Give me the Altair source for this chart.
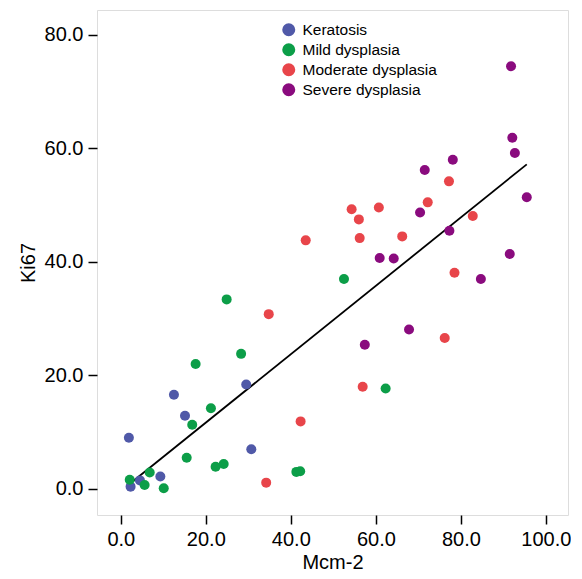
import altair as alt
import pandas as pd

groups = ["Keratosis", "Mild dysplasia", "Moderate dysplasia", "Severe dysplasia"]
colors = ["#5059a8", "#0c9e48", "#e8454a", "#8a0b7e"]

ker_x = [1.9, 12.5, 15.1, 29.5, 30.7, 9.3, 2.3, 4.5]
ker_y = [9.0, 16.6, 12.9, 18.4, 7.0, 2.2, 0.4, 1.5]

mild_x = [24.9, 28.3, 17.6, 21.2, 16.8, 15.5, 22.3, 24.2, 41.3, 42.2, 6.8, 2.1, 5.6, 10.1, 52.5, 62.3]
mild_y = [33.4, 23.8, 22.0, 14.2, 11.3, 5.5, 3.9, 4.4, 3.0, 3.1, 2.9, 1.6, 0.7, 0.1, 37.0, 17.7]

mod_x = [34.8, 42.3, 34.2, 78.5, 76.2, 56.9, 77.2, 72.2, 54.3, 56.0, 60.7, 56.2, 66.2, 82.8, 43.5]
mod_y = [30.8, 11.9, 1.1, 38.1, 26.6, 18.0, 54.2, 50.5, 49.3, 47.5, 49.6, 44.2, 44.5, 48.1, 43.8]

sev_x = [60.9, 64.2, 84.7, 91.5, 67.8, 57.4, 91.8, 92.1, 92.7, 78.1, 71.5, 95.5, 70.4, 77.3]
sev_y = [40.7, 40.6, 37.0, 41.4, 28.1, 25.4, 74.5, 61.9, 59.2, 58.0, 56.2, 51.4, 48.7, 45.5]

rows = []
for g, xs, ys in zip(groups, [ker_x, mild_x, mod_x, sev_x], [ker_y, mild_y, mod_y, sev_y]):
    for a, b in zip(xs, ys):
        rows.append({"Mcm-2": a, "Ki67": b, "Group": g})
df = pd.DataFrame(rows)

FONT = "Liberation Sans"

xscale = alt.Scale(domain=[-5.6, 105.2], nice=False, zero=False)
yscale = alt.Scale(domain=[-4.6, 84.4], nice=False, zero=False)

xaxis = alt.Axis(values=[0, 20, 40, 60, 80, 100], format=".1f", grid=False, domain=False,
                 tickSize=9, tickWidth=1.5, tickColor="black", labelFontSize=20,
                 titleFontSize=20, labelPadding=5, titlePadding=3, titleFontWeight="normal",
                 labelColor="black", titleColor="black", labelFont=FONT, titleFont=FONT)
yaxis = alt.Axis(values=[0, 20, 40, 60, 80], format=".1f", grid=False, domain=False,
                 tickSize=9, tickWidth=1.5, tickColor="black", labelFontSize=20,
                 titleFontSize=20, labelPadding=5, titlePadding=6, titleFontWeight="normal",
                 labelColor="black", titleColor="black", labelFont=FONT, titleFont=FONT)

points = alt.Chart(df).mark_circle(size=100, opacity=1).encode(
    x=alt.X("Mcm-2:Q", scale=xscale, axis=xaxis, title="Mcm-2"),
    y=alt.Y("Ki67:Q", scale=yscale, axis=yaxis, title="Ki67"),
    color=alt.Color("Group:N", scale=alt.Scale(domain=groups, range=colors),
                    legend=alt.Legend(title=None, orient="none", legendX=184, legendY=12,
                                      symbolType="circle", symbolSize=170, symbolStrokeWidth=0,
                                      symbolOpacity=1, labelFontSize=15.5, labelFont=FONT,
                                      labelColor="black", rowPadding=3, labelOffset=6)),
)

line = alt.Chart(df).transform_regression("Mcm-2", "Ki67").mark_line(
    color="black", strokeWidth=1.8
).encode(
    x=alt.X("Mcm-2:Q", scale=xscale),
    y=alt.Y("Ki67:Q", scale=yscale),
)

chart = alt.layer(line, points).properties(
    width=471, height=505,
    padding={"left": 10, "top": 2, "right": 0, "bottom": 0},
).configure_view(stroke="black", strokeWidth=2).configure(background="white")

chart.save("out.html", embed_options={"renderer": "svg", "actions": False})
